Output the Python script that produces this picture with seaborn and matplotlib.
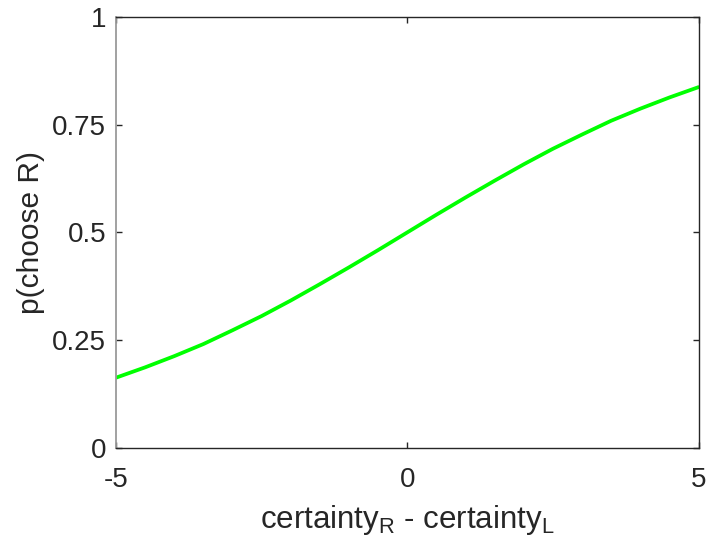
import numpy as np
import pandas as pd
import matplotlib
matplotlib.use("Agg")
import matplotlib.pyplot as plt
import seaborn as sns

# values
x_vals = [-5, -4.5, -4, -3.5, -3, -2.5, -2, -1.5, -1, -0.5, 0,
          0.5, 1, 1.5, 2, 2.5, 3, 3.5, 4, 4.5, 5]
p_vals = [0.163, 0.187, 0.213, 0.241, 0.273, 0.306, 0.342, 0.380, 0.419, 0.459, 0.500,
          0.541, 0.581, 0.620, 0.658, 0.694, 0.727, 0.759, 0.787, 0.813, 0.837]
x_ticks = [-5, 0, 5]
y_ticks = [0, 0.25, 0.5, 0.75, 1]
y_ticklabels = ["0", "0.25", "0.5", "0.75", "1"]

sns.set_style("white")
plt.rcParams['font.family'] = ['Liberation Sans', 'DejaVu Sans']
plt.rcParams['mathtext.fontset'] = 'custom'
plt.rcParams['mathtext.rm'] = 'Liberation Sans'

df = pd.DataFrame({"x": x_vals, "p": p_vals})

fig = plt.figure(figsize=(7.07, 5.44), dpi=100)
ax = fig.add_axes([0.164, 0.1765, 0.824, 0.7925])
sns.lineplot(data=df, x="x", y="p", ax=ax, color=(0, 1, 0), linewidth=2.7)

ax.set_xlim(-5, 5)
ax.set_ylim(0, 1)
ax.set_xticks(x_ticks)
ax.set_xticklabels([str(t) for t in x_ticks])
ax.set_yticks(y_ticks)
ax.set_yticklabels(y_ticklabels)

txt = "#262626"
for s in ["top", "right", "bottom"]:
    ax.spines[s].set_visible(True)
    ax.spines[s].set_color(txt)
    ax.spines[s].set_linewidth(1.0)
ax.spines["left"].set_visible(True)
ax.spines["left"].set_color("#9a9a9a")
ax.spines["left"].set_linewidth(1.3)

ax.tick_params(axis="both", direction="in", length=4.5, width=1.0, color=txt,
               labelsize=20, labelcolor=txt, top=True, right=True,
               bottom=True, left=True)
ax.tick_params(axis="x", pad=14)
ax.tick_params(axis="y", pad=7)

ax.set_xlabel(r"certainty$_\mathregular{R}$ - certainty$_\mathregular{L}$",
              fontsize=22.5, color=txt, labelpad=7)
ax.set_ylabel("p(choose R)", fontsize=21.5, color=txt, labelpad=5)

fig.savefig("out.png", dpi=100)
